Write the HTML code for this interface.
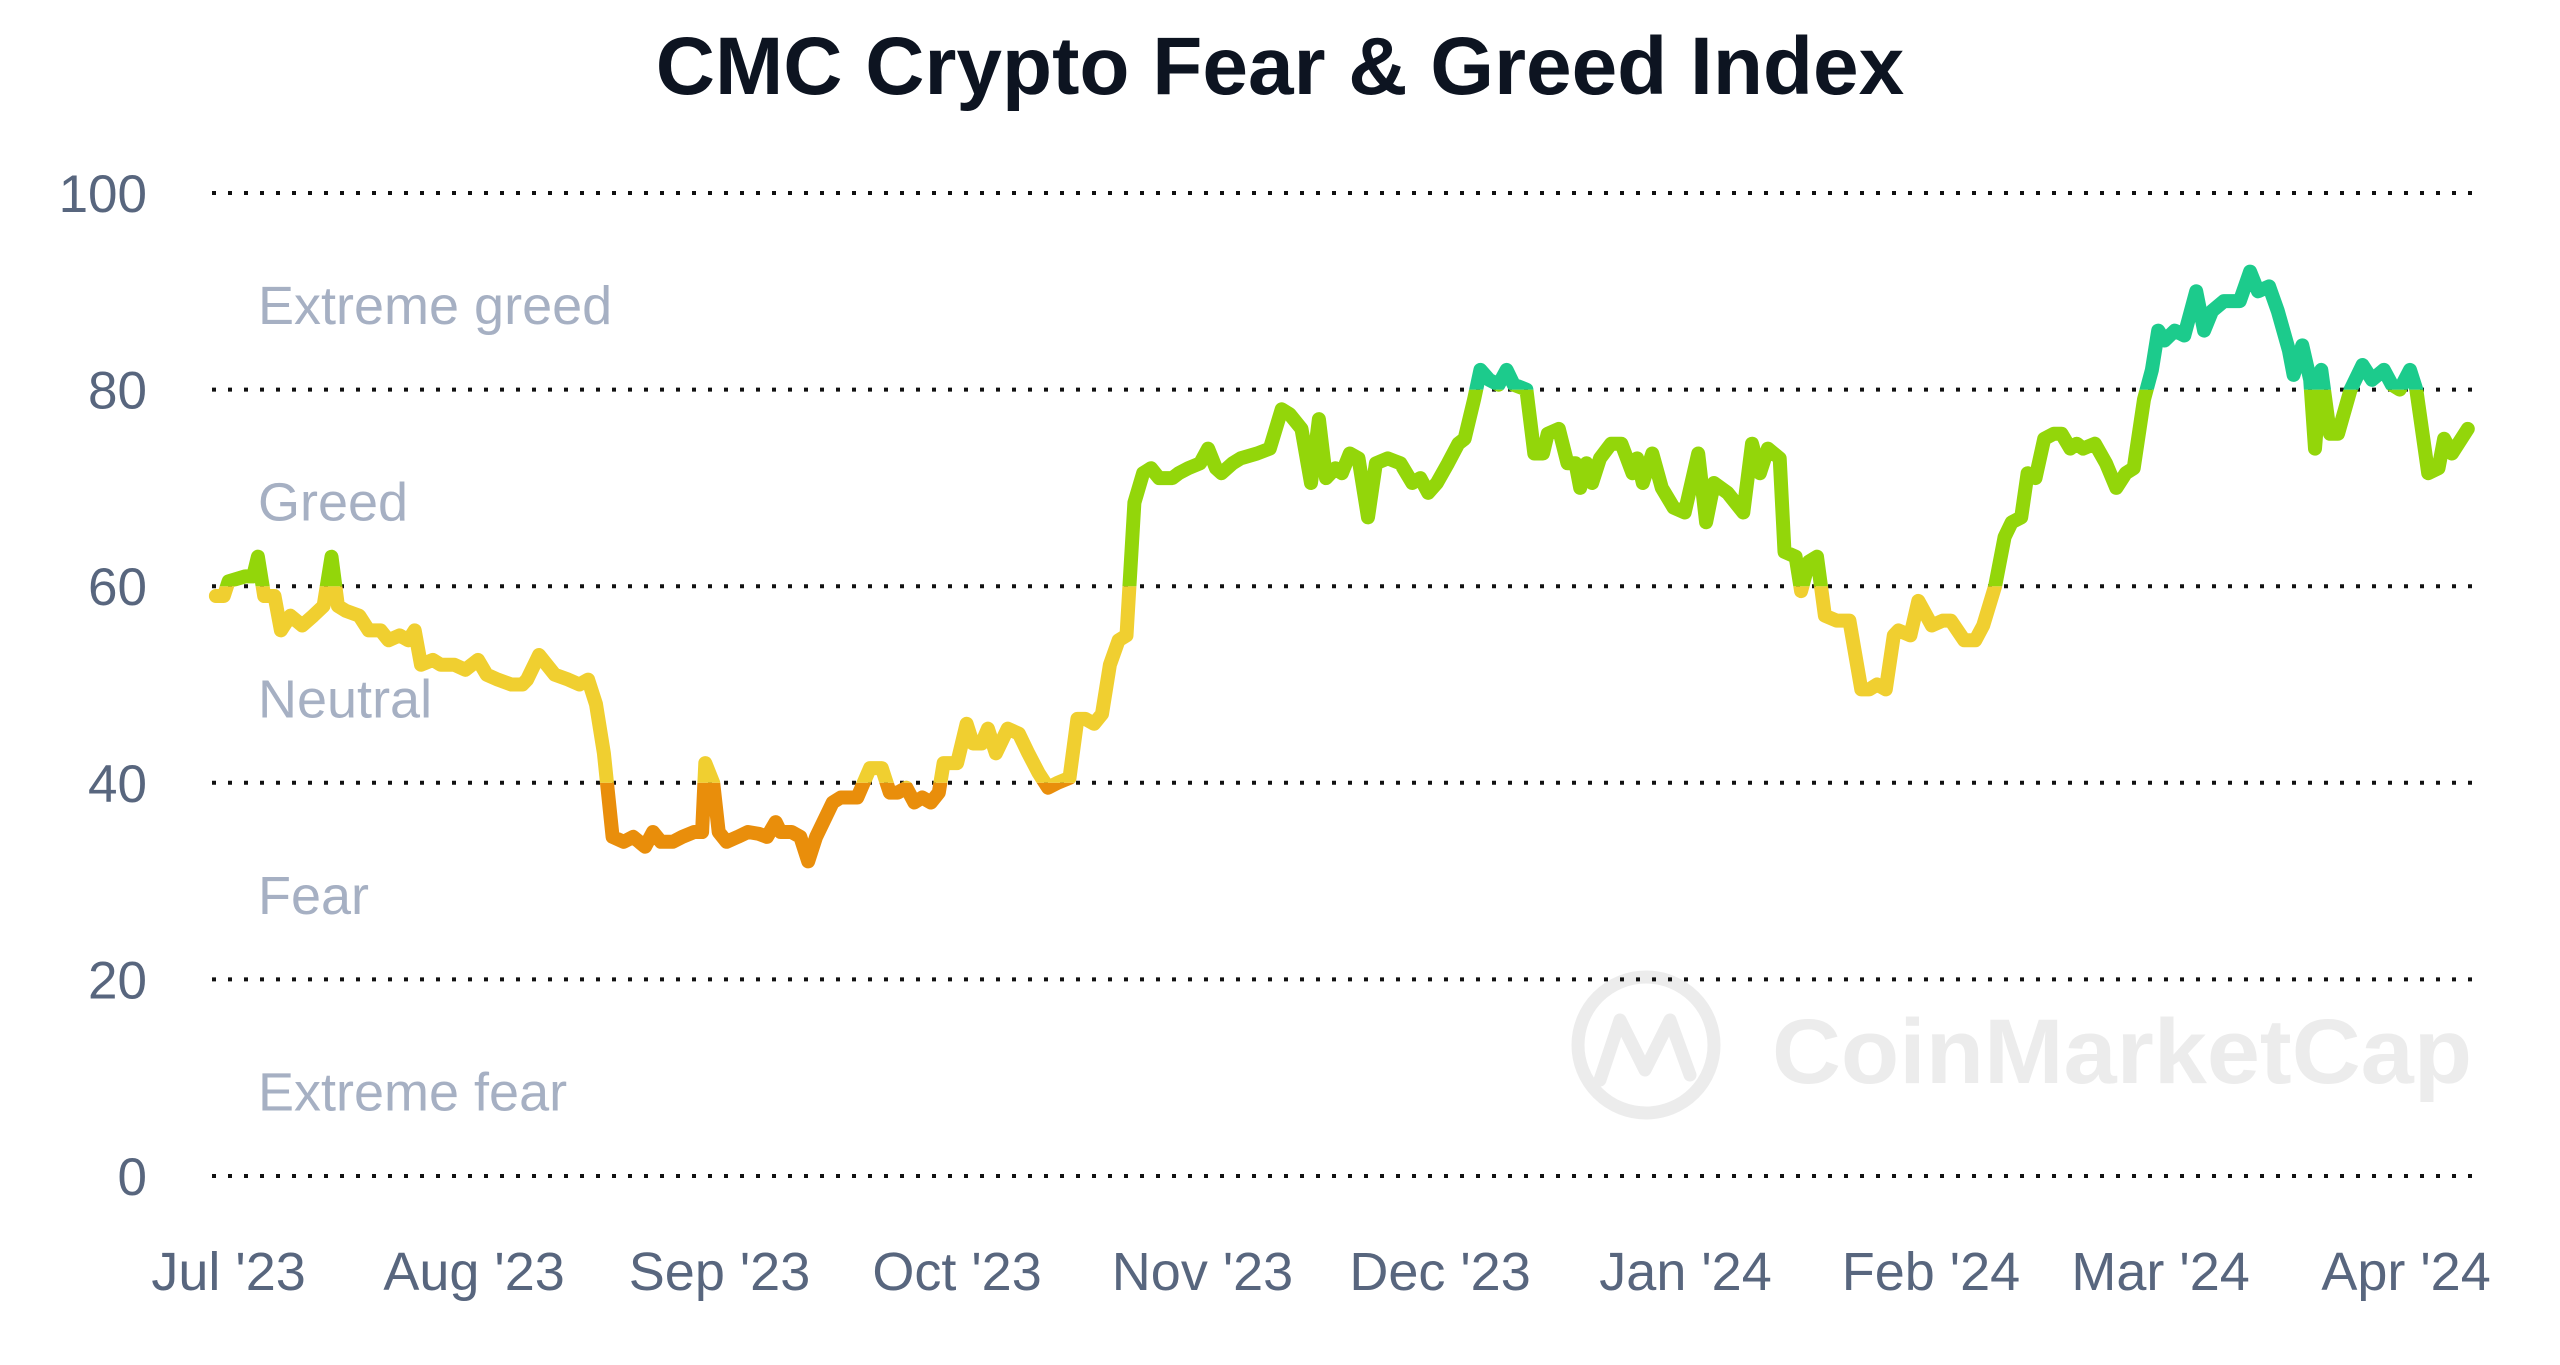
<!DOCTYPE html>
<html><head><meta charset="utf-8"><style>
html,body{margin:0;padding:0;background:#fff;}
svg{display:block;font-family:"Liberation Sans",Arial,sans-serif;}
</style></head><body>
<svg id="chart" width="2560" height="1365" viewBox="0 0 2560 1365" xmlns="http://www.w3.org/2000/svg">
<rect width="2560" height="1365" fill="#fff"/>
<text x="1280" y="94" text-anchor="middle" font-size="82" font-weight="bold" fill="#0d1421">CMC Crypto Fear &amp; Greed Index</text>
<g opacity="1">
<circle cx="1646" cy="1045" r="68" fill="none" stroke="#ececec" stroke-width="13"/>
<path d="M1600 1080 L1620 1020 L1645 1070 L1670 1020 L1690 1075" fill="none" stroke="#ececec" stroke-width="13" stroke-linejoin="round" stroke-linecap="round"/>
<text x="1772" y="1083" font-size="92" font-weight="bold" fill="#ececec" textLength="700" lengthAdjust="spacingAndGlyphs">CoinMarketCap</text>
</g>
<g id="grid"></g>
<g id="ylabels"></g>
<g id="zones"></g>
<g id="xlabels"></g>
<defs id="defs"></defs>
<g id="series"></g>
</svg>
<script>
const yTicks=[0,20,40,60,80,100];
const xTickLabels=["Jul '23","Aug '23","Sep '23","Oct '23","Nov '23","Dec '23","Jan '24","Feb '24","Mar '24","Apr '24"];
const xTickDays=[0,31,62,92,123,153,184,215,244,275];
const zoneLabels=["Extreme greed","Greed","Neutral","Fear","Extreme fear"];
const zoneValues=[89,69,49,29,9];
const days=[-1.6,-0.6,0,2.1,3.1,3.7,4.5,5.8,6.6,7.8,9.3,10.7,12,13,13.8,14.8,16.5,17.7,19.2,20.2,21.6,22.7,23.5,24.3,25.8,26.8,28.5,29.9,31.5,32.6,34,35.7,37.1,37.7,39.2,41.2,42.9,44.3,45.4,46.4,47.4,48.5,49.9,51.1,52.6,53.6,54.6,56.1,57.3,58.8,59.8,60.2,61.2,61.9,62.9,64.3,65.6,67,68,69.1,69.7,71.1,72.2,73.2,74.2,76.3,77.3,79.4,81,82.5,83.5,84.5,85.6,86.6,87.6,88.7,89.7,90.3,92,93.2,94,95.1,95.9,96.9,98.4,99.8,101,102.3,103.5,104.7,106.2,107.2,108.2,109.3,110.3,111.3,112.4,113.4,114.4,115.5,116.5,117.5,119.2,120,121.2,122.7,123.7,124.7,125.4,126.8,127.8,129.9,131.5,133,134,135.5,136.7,137.7,138.6,139.8,140.6,141.6,142.7,143.9,144.9,146.4,148,149.5,150.5,151.5,152.6,154,155.3,156.1,157.3,158.1,159.2,160.4,161.4,162.3,163.9,164.9,166,166.6,168,169.1,170.1,170.7,171.5,172.2,173.2,174.6,175.9,177.3,177.9,178.6,179.8,181,182.5,183.9,185.6,186.6,187.6,189.3,191.3,192.4,193.4,194.4,195.9,196.5,197.9,198.6,199.6,200.6,201.6,203.1,204.7,206.2,207.2,208.2,209.3,210.3,210.9,212.4,213.4,215.1,216.5,217.5,219.2,220.6,221.6,223.1,224.3,225.2,226.4,227.2,228.2,229.3,230.5,231.5,232.6,233.4,234.2,235.7,237.1,238.4,239.6,240.6,241.9,242.9,243.7,244.5,245.8,247,248.5,249.5,250.5,252,254,255.3,256.3,257.7,258.8,260.2,260.8,261.9,262.9,263.5,264.3,265.4,266.4,268,269.5,270.7,272.2,273.2,274.2,275.5,276.3,277.8,279.1,279.8,280.8,282.8];
const values=[59,59,60.5,61,61,63,59,59,55.5,57,56,57,58,63,58,57.5,57,55.5,55.5,54.5,55,54.5,55.5,52,52.5,52,52,51.5,52.5,51,50.5,50,50,50.5,53,51,50.5,50,50.5,48,43,34.5,34,34.5,33.5,35,34,34,34.5,35,35,42,40,35,34,34.5,35,34.8,34.5,36,35,35,34.5,32,34.5,38,38.5,38.5,41.5,41.5,39,39,39.5,38,38.5,38,39,42,42,46,44,44,45.5,43,45.5,45,43,41,39.5,40,40.5,46.5,46.5,46,47,52,54.5,55,68.5,71.5,72,71,71,71.5,72,72.5,74,72,71.5,72.5,73,73.5,74,78,77.5,76,70.5,77,71,72,71.5,73.5,73,67,72.5,73,72.5,70.5,71,69.5,70.5,72.5,74.5,75,79,82,81,80.5,82,80.5,80,73.5,73.5,75.5,76,72.5,72.5,70,72.5,70.5,73,74.5,74.5,71.5,73,70.5,73.5,70,68,67.5,73.5,66.5,70.5,69.5,67.5,74.5,71.5,74,73,63.5,63,59.5,62.5,63,57,56.5,56.5,49.5,49.5,50,49.5,55,55.5,55,58.5,56,56.5,56.5,54.5,54.5,56,60,65,66.5,67,71.5,71,75,75.5,75.5,74,74.5,74,74.5,72.5,70,71.5,72,79,82,86,85,86,85.5,90,86,88,89,89,92,90,90.5,88,84,81.5,84.5,81,74,82,75.5,75.5,80,82.5,81,82,80.5,80,82,80,71.5,72,75,73.5,76];
const bandEdges=[0,40,60,80,100];
const bandColors=["#e98e0b","#f0cf30","#93d60a","#1ccb8c"];

const NS="http://www.w3.org/2000/svg";
const X0=212,X1=2482;
function xScale(d){return 228.6+7.918*d;}
function yScale(v){return 1176-v*9.83;}
function mk(tag,attrs,parent){const e=document.createElementNS(NS,tag);for(const k in attrs)e.setAttribute(k,attrs[k]);parent.appendChild(e);return e;}
const grid=document.getElementById('grid'),yl=document.getElementById('ylabels'),zn=document.getElementById('zones'),xl=document.getElementById('xlabels'),defs=document.getElementById('defs'),ser=document.getElementById('series');
yTicks.forEach(t=>{
  const l=mk('line',{x1:X0,x2:X1,y1:yScale(t),y2:yScale(t),stroke:'#111','stroke-width':4,'stroke-dasharray':'4 12'},grid);
  
  
  const tx=mk('text',{x:147,y:yScale(t)+19,'text-anchor':'end','font-size':53,fill:'#58667e'},yl);
  tx.textContent=t;
  
  
});
zoneLabels.forEach((z,i)=>{
  const tx=mk('text',{x:258,y:yScale(zoneValues[i])+23,'font-size':54,fill:'#a6b0c3'},zn);
  tx.textContent=z;
  
  
});
xTickLabels.forEach((s,i)=>{
  const tx=mk('text',{x:xScale(xTickDays[i]),y:1290,'text-anchor':'middle','font-size':54,fill:'#58667e'},xl);
  tx.textContent=s;
  
  
});
let d='';
days.forEach((dd,i)=>{d+=(i?'L':'M')+xScale(dd).toFixed(1)+' '+yScale(values[i]).toFixed(1);});
bandColors.forEach((c,i)=>{
  const cp=mk('clipPath',{id:'band'+i},defs);
  const top=i===bandColors.length-1?0:yScale(bandEdges[i+1]);
  const bot=i===0?1365:yScale(bandEdges[i]);
  mk('rect',{x:0,y:top,width:2560,height:bot-top},cp);
  const p=mk('path',{d:d,fill:'none',stroke:c,'stroke-width':14,'stroke-linejoin':'round','stroke-linecap':'round','clip-path':'url(#band'+i+')'},ser);
  
  
});
</script>
</body></html>
